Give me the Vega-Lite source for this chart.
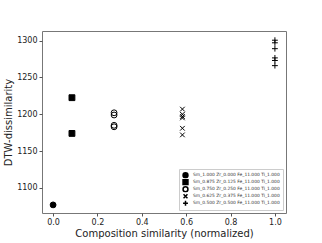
{
  "$schema": "https://vega.github.io/schema/vega-lite/v6.json",
  "width": 244,
  "height": 182,
  "autosize": {"type": "none"},
  "padding": {"left": 42, "top": 31, "right": 36, "bottom": 30},
  "background": "white",
  "config": {
    "font": "DejaVu Sans",
    "view": {"stroke": "#777", "strokeWidth": 1},
    "axis": {"grid": false, "domain": false, "tickColor": "#555", "tickSize": 3, "labelColor": "#222", "titleColor": "#222", "labelFontSize": 8, "titleFontSize": 10, "titleFontWeight": "normal", "labelFont": "DejaVu Sans", "titleFont": "DejaVu Sans"}
  },
  "data": {
    "values": [
      {"x": 0.0, "y": 1077, "s": "Sm_1.000 Zr_0.000 Fe_11.000 Ti_1.000"},
      {"x": 0.085, "y": 1222.5, "s": "Sm_0.875 Zr_0.125 Fe_11.000 Ti_1.000"},
      {"x": 0.085, "y": 1174, "s": "Sm_0.875 Zr_0.125 Fe_11.000 Ti_1.000"},
      {"x": 0.275, "y": 1202, "s": "Sm_0.750 Zr_0.250 Fe_11.000 Ti_1.000"},
      {"x": 0.275, "y": 1199, "s": "Sm_0.750 Zr_0.250 Fe_11.000 Ti_1.000"},
      {"x": 0.275, "y": 1185, "s": "Sm_0.750 Zr_0.250 Fe_11.000 Ti_1.000"},
      {"x": 0.275, "y": 1183, "s": "Sm_0.750 Zr_0.250 Fe_11.000 Ti_1.000"},
      {"x": 0.583, "y": 1207, "s": "Sm_0.625 Zr_0.375 Fe_11.000 Ti_1.000"},
      {"x": 0.583, "y": 1200, "s": "Sm_0.625 Zr_0.375 Fe_11.000 Ti_1.000"},
      {"x": 0.583, "y": 1197, "s": "Sm_0.625 Zr_0.375 Fe_11.000 Ti_1.000"},
      {"x": 0.583, "y": 1195, "s": "Sm_0.625 Zr_0.375 Fe_11.000 Ti_1.000"},
      {"x": 0.583, "y": 1181, "s": "Sm_0.625 Zr_0.375 Fe_11.000 Ti_1.000"},
      {"x": 0.583, "y": 1172, "s": "Sm_0.625 Zr_0.375 Fe_11.000 Ti_1.000"},
      {"x": 1.0, "y": 1300.5, "s": "Sm_0.500 Zr_0.500 Fe_11.000 Ti_1.000"},
      {"x": 1.0, "y": 1297, "s": "Sm_0.500 Zr_0.500 Fe_11.000 Ti_1.000"},
      {"x": 1.0, "y": 1289, "s": "Sm_0.500 Zr_0.500 Fe_11.000 Ti_1.000"},
      {"x": 1.0, "y": 1276.5, "s": "Sm_0.500 Zr_0.500 Fe_11.000 Ti_1.000"},
      {"x": 1.0, "y": 1273, "s": "Sm_0.500 Zr_0.500 Fe_11.000 Ti_1.000"},
      {"x": 1.0, "y": 1266, "s": "Sm_0.500 Zr_0.500 Fe_11.000 Ti_1.000"}
    ]
  },
  "mark": {"type": "point", "size": 34, "strokeWidth": 1, "opacity": 1},
  "encoding": {
    "x": {"field": "x", "type": "quantitative", "scale": {"domain": [-0.05, 1.05], "nice": false, "zero": false},
      "axis": {"title": "Composition similarity (normalized)", "values": [0, 0.2, 0.4, 0.6, 0.8, 1.0], "format": ".1f", "titlePadding": 2, "labelPadding": 2}},
    "y": {"field": "y", "type": "quantitative", "scale": {"domain": [1066, 1313], "nice": false, "zero": false},
      "axis": {"title": "DTW-dissimilarity", "values": [1100, 1150, 1200, 1250, 1300], "format": "d", "titlePadding": 3, "labelPadding": 2}},
    "shape": {"field": "s", "type": "nominal",
      "scale": {"domain": ["Sm_1.000 Zr_0.000 Fe_11.000 Ti_1.000", "Sm_0.875 Zr_0.125 Fe_11.000 Ti_1.000", "Sm_0.750 Zr_0.250 Fe_11.000 Ti_1.000", "Sm_0.625 Zr_0.375 Fe_11.000 Ti_1.000", "Sm_0.500 Zr_0.500 Fe_11.000 Ti_1.000"],
        "range": ["circle", "square", "circle", "M-0.8,-0.8L0.8,0.8M-0.8,0.8L0.8,-0.8", "M-1,0L1,0M0,-1L0,1"]},
      "legend": {"title": null, "orient": "bottom-right", "offset": 3, "labelFontSize": 4.4, "labelColor": "#333", "symbolSize": 24, "rowPadding": 0, "clipHeight": 6.5, "padding": 3, "strokeColor": "#ccc", "fillColor": "white", "labelOffset": 4, "symbolOffset": 0,
        "encode": {"symbols": {"update": {"stroke": {"value": "black"}, "strokeWidth": {"value": 1}}}}}},
    "fill": {"field": "s", "type": "nominal",
      "scale": {"domain": ["Sm_1.000 Zr_0.000 Fe_11.000 Ti_1.000", "Sm_0.875 Zr_0.125 Fe_11.000 Ti_1.000", "Sm_0.750 Zr_0.250 Fe_11.000 Ti_1.000", "Sm_0.625 Zr_0.375 Fe_11.000 Ti_1.000", "Sm_0.500 Zr_0.500 Fe_11.000 Ti_1.000"],
        "range": ["black", "black", "transparent", "transparent", "transparent"]},
      "legend": {"title": null, "orient": "bottom-right", "offset": 3, "labelFontSize": 4.4, "labelColor": "#333", "symbolSize": 24, "rowPadding": 0, "clipHeight": 6.5, "padding": 3, "strokeColor": "#ccc", "fillColor": "white", "labelOffset": 4, "symbolOffset": 0,
        "encode": {"symbols": {"update": {"stroke": {"value": "black"}, "strokeWidth": {"value": 1}}}}}},
    "stroke": {"value": "black"}
  }
}
